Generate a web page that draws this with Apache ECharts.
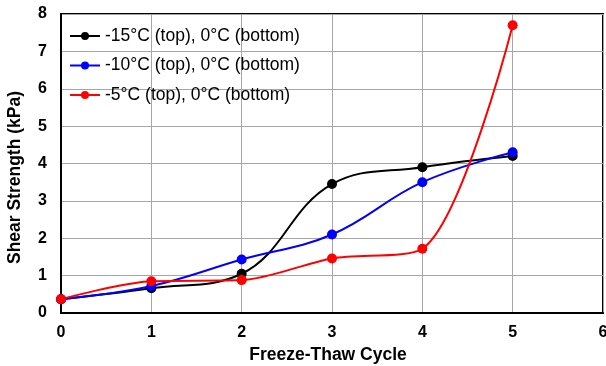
<!DOCTYPE html>
<html><head><meta charset="utf-8">
<script src="https://cdn.jsdelivr.net/npm/echarts@6/dist/echarts.min.js"></script>
<style>html,body{margin:0;padding:0;background:#fff}#c{width:606px;height:366px}</style>
</head><body><div id="c"></div>
<script>
var cycles = [0, 1, 2, 3, 4, 5];
var s15 = [0.37, 0.66, 1.05, 3.45, 3.9, 4.2];
var s10 = [0.37, 0.72, 1.43, 2.1, 3.5, 4.3];
var s5 = [0.37, 0.85, 0.88, 1.46, 1.72, 7.7];
var names = ['-15°C (top), 0°C (bottom)', '-10°C (top), 0°C (bottom)', '-5°C (top), 0°C (bottom)'];
var colors = ['#000000', '#0000ff', '#ff0000'];
var smoothness = [0.4, 0.4, 0.3];
function pairs(v){ return cycles.map(function(x,i){ return [x, v[i]]; }); }
var font = 'Liberation Sans, Arial, sans-serif';
var chart = echarts.init(document.getElementById('c'));
chart.setOption({
  animation: false,
  grid: {left: 61, right: 3, top: 14, bottom: 53, show: true, borderColor: '#000', borderWidth: 2,
         containLabel: false, outerBoundsMode: 'none'},
  legend: {
    orient: 'vertical', left: 64, top: 22, itemGap: 11.5, itemWidth: 30, itemHeight: 10,
    textStyle: {fontFamily: font, fontSize: 17.5, color: '#000'},
    data: names
  },
  xAxis: {
    type: 'value', min: 0, max: 6, interval: 1,
    name: 'Freeze-Thaw Cycle', nameLocation: 'middle', nameGap: 31,
    nameTextStyle: {fontFamily: font, fontSize: 17.5, fontWeight: 'bold', color: '#000', padding: [0, 8, 0, 0]},
    axisLine: {show: true, lineStyle: {color: '#000', width: 2}},
    axisTick: {show: false},
    axisLabel: {fontFamily: font, fontSize: 16, fontWeight: 'bold', color: '#000', margin: 12},
    splitLine: {show: true, lineStyle: {color: '#a6a6a6', width: 1}}
  },
  yAxis: {
    type: 'value', min: 0, max: 8, interval: 1,
    name: 'Shear Strength (kPa)', nameLocation: 'middle', nameGap: 37,
    nameTextStyle: {fontFamily: font, fontSize: 17.5, fontWeight: 'bold', color: '#000', padding: [0, 28, 0, 0]},
    axisLine: {show: true, lineStyle: {color: '#000', width: 2}},
    axisTick: {show: false},
    axisLabel: {fontFamily: font, fontSize: 16, fontWeight: 'bold', color: '#000', margin: 14},
    splitLine: {show: true, lineStyle: {color: '#a6a6a6', width: 1}}
  },
  series: [s15, s10, s5].map(function(v, i){
    return {
      name: names[i], type: 'line', data: pairs(v), smooth: smoothness[i],
      symbol: 'circle', symbolSize: 10,
      itemStyle: {color: colors[i]},
      lineStyle: {color: colors[i], width: 2}
    };
  })
});
</script></body></html>
